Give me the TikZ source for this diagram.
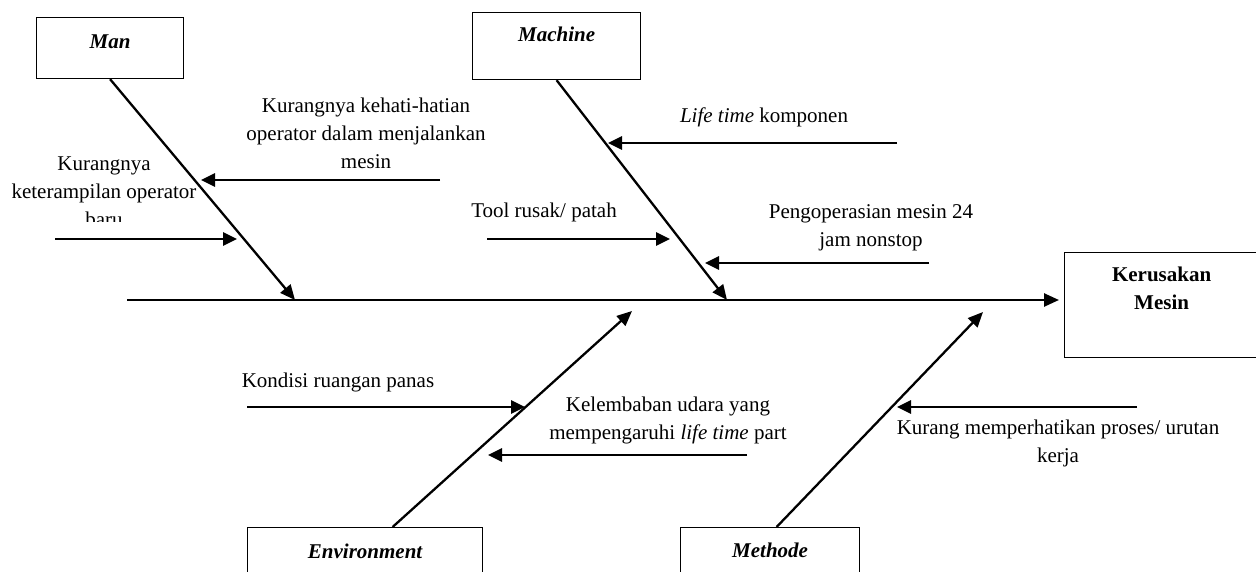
\documentclass[tikz,border=0pt]{standalone}
\usepackage{fontspec}
\setmainfont{Liberation Serif}
\usetikzlibrary{arrows.meta}
% centred multi-line text whose baseline is the first line
\newcommand{\stackedtext}[1]{\begin{tabular}[t]{@{}c@{}}#1\end{tabular}}
\begin{document}
\begin{tikzpicture}[x=1pt,y=-1pt,
  txt/.style={font=\fontsize{21}{28}\selectfont, inner sep=0pt, anchor=base},
  catbox/.style={draw, line width=1.2pt, inner sep=0pt, anchor=north west,
    font=\fontsize{21}{28}\selectfont\bfseries\itshape, text height=14pt},
  bone/.style={line width=2.3pt, -{Triangle[length=15pt,width=13pt]}},
  cause/.style={line width=2.7pt, -{Triangle[length=14pt,width=13pt]}},
]
\useasboundingbox (0,0) rectangle (1256,572);
\clip (0,0) rectangle (1256,572);

% category boxes and effect box
\node[catbox, minimum width=147pt, minimum height=61pt, text depth=13pt] (man) at (36,17) {Man};
\node[catbox, minimum width=168pt, minimum height=67pt, text depth=23pt] (machine) at (472,12) {Machine};
\node[catbox, minimum width=235pt, minimum height=80pt, text depth=32pt] (env) at (247,527) {Environment};
\node[catbox, minimum width=179pt, minimum height=80pt, text depth=34pt] (method) at (680,527) {Methode};
\node[catbox, font=\fontsize{21}{28}\selectfont\bfseries, minimum width=194pt, minimum height=105pt, text depth=61pt] (effect) at (1064,252) {\stackedtext{Kerusakan\\Mesin}};

% spine
\coordinate (tail) at (127,300);
\draw[bone, line width=2.5pt] (tail) -- ([xshift=-5pt]effect.west |- tail);

% main bones
\coordinate (manEnd) at (295,300);
\coordinate (machineEnd) at (727,300);
\coordinate (envEnd) at (632,311);
\coordinate (methodEnd) at (983,312);
\draw[bone] (man.south) -- (manEnd);
\draw[bone] (machine.south) -- (machineEnd);
\draw[bone] ([xshift=27.5pt]env.north) -- (envEnd);
\draw[bone] ([xshift=6.5pt]method.north) -- (methodEnd);

% causes: Man
\node[txt] (c1) at (366,113) {\stackedtext{Kurangnya kehati-hatian\\operator dalam menjalankan\\mesin}};
\coordinate (c1s) at (440,180); \coordinate (c1e) at (201,180);
\draw[cause] (c1s) -- (c1e);
\begin{scope}
  \clip (0,150) rectangle (240,222);
  \node[txt] (c2) at (104,171) {\stackedtext{Kurangnya\\keterampilan operator\\baru}};
\end{scope}
\coordinate (c2s) at (55,239); \coordinate (c2e) at (237,239);
\draw[cause] (c2s) -- (c2e);

% causes: Machine
\node[txt] (c3) at (764,123) {\textit{Life time} komponen};
\coordinate (c3s) at (897,143); \coordinate (c3e) at (608,143);
\draw[cause] (c3s) -- (c3e);
\node[txt] (c4) at (544,218) {Tool rusak/ patah};
\coordinate (c4s) at (487,239); \coordinate (c4e) at (670,239);
\draw[cause] (c4s) -- (c4e);
\node[txt] (c5) at (871,219) {\stackedtext{Pengoperasian mesin 24\\jam nonstop}};
\coordinate (c5s) at (929,263); \coordinate (c5e) at (705,263);
\draw[cause] (c5s) -- (c5e);

% causes: Environment
\node[txt] (c6) at (338,387) {Kondisi ruangan panas};
\coordinate (c6s) at (247,407); \coordinate (c6e) at (525,407);
\draw[cause] (c6s) -- (c6e);
\node[txt] (c7) at (668,411) {\stackedtext{Kelembaban udara yang\\mempengaruhi \textit{life time} part}};
\coordinate (c7s) at (747,455); \coordinate (c7e) at (488,455);
\draw[cause] (c7s) -- (c7e);

% causes: Methode
\node[txt] (c8) at (1058,434) {\stackedtext{Kurang memperhatikan proses/ urutan\\kerja}};
\coordinate (c8s) at (1137,407); \coordinate (c8e) at (897,407);
\draw[cause] (c8s) -- (c8e);
\end{tikzpicture}
\end{document}
